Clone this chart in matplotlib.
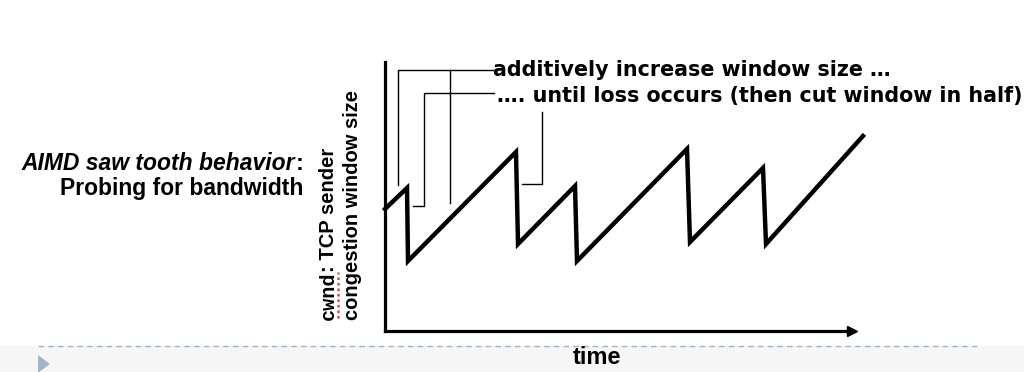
import matplotlib.pyplot as plt
from matplotlib.patches import Rectangle, Polygon
from matplotlib.lines import Line2D

# sawtooth vertices (time, cwnd)
saw_t = [0, 22, 23, 131, 133, 190, 192, 302, 305, 378, 381, 478]
saw_w = [122, 143, 70, 179, 87, 145, 70, 182, 89, 163, 87, 195]

note_add = "additively increase window size \u2026"
note_loss = "\u2026. until loss occurs (then cut window in half)"
side_line1 = "AIMD saw tooth behavior"
side_line2 = "Probing for bandwidth"
xlab = "time"

W, H = 1024, 372
fig = plt.figure(figsize=(W / 100, H / 100), dpi=100)

def fx(px):
    return px / W

def fy(py):
    return 1 - py / H

# slide footer band
fig.patches.append(Rectangle((0, 0), 1, fy(346), transform=fig.transFigure,
                             facecolor="#f6f6f6", edgecolor="none", zorder=0))
fig.lines.append(Line2D([fx(38), fx(980)], [fy(346), fy(346)], transform=fig.transFigure,
                        color="#9db5cc", lw=1, ls=(0, (4, 3))))
fig.patches.append(Polygon([(fx(38), fy(355)), (fx(50), fy(364)), (fx(38), fy(373))],
                           closed=True, transform=fig.transFigure,
                           facecolor="#a3b6c9", edgecolor="none"))

ax = fig.add_axes([fx(385), fy(331), fx(852) - fx(385), fy(62) - fy(331)])
ax.set_xlim(0, 467)
ax.set_ylim(0, 269)
ax.patch.set_alpha(0)
for s in ["top", "right"]:
    ax.spines[s].set_visible(False)
for s in ["left", "bottom"]:
    ax.spines[s].set_linewidth(2.3)
    ax.spines[s].set_color("black")
ax.set_xticks([])
ax.set_yticks([])
ax.plot(1, 0, ">k", ms=7, transform=ax.get_yaxis_transform(), clip_on=False)

ax.plot(saw_t, saw_w, color="black", lw=3.2, solid_joinstyle="miter", clip_on=False)

# callout leader lines (pixel positions converted to figure coords)
def leader(pts):
    fig.lines.append(Line2D([fx(p[0]) for p in pts], [fy(p[1]) for p in pts],
                            transform=fig.transFigure, color="black", lw=1))

leader([(398, 185), (398, 70), (493, 70)])
leader([(450, 203), (450, 70)])
leader([(413, 206), (424, 206), (424, 93), (494, 93)])
leader([(522, 184), (542, 184), (542, 112)])

fig.text(fx(493), fy(70), note_add, fontsize=14.9, fontweight="bold",
         family="DejaVu Sans", va="center", ha="left")
fig.text(fx(497), fy(96), note_loss, fontsize=14.9, fontweight="bold",
         family="DejaVu Sans", va="center", ha="left")

# left caption: italic part then upright colon
colon = fig.text(fx(303), fy(163), ":", fontsize=16.5, fontweight="bold",
                 family="Liberation Sans", va="center", ha="right")
fig.canvas.draw()
cx0 = colon.get_window_extent().x0
fig.text(cx0 / W, fy(163), side_line1, fontsize=16.5, fontweight="bold",
         style="italic", family="Liberation Sans", va="center", ha="right")
fig.text(fx(303), fy(188), side_line2, fontsize=16.5, fontweight="bold",
         family="Liberation Sans", va="center", ha="right")

# y label, two rotated lines
cw = fig.text(fx(328), fy(320), "cwnd", fontsize=14.5, fontweight="bold",
              family="Liberation Mono", rotation=90, va="bottom", ha="center")
fig.canvas.draw()
top = cw.get_window_extent()
fig.text(fx(328), top.y1 / H, ": TCP sender", fontsize=14.5, fontweight="bold",
         family="Liberation Sans", rotation=90, va="bottom", ha="center")
fig.lines.append(Line2D([fx(338), fx(338)], [fy(318), top.y1 / H], transform=fig.transFigure,
                        color="#e04848", lw=1.8, ls=(0, (1, 1.2))))
fig.text(fx(353), fy(320), "congestion window size", fontsize=14.5, fontweight="bold",
         family="Liberation Sans", rotation=90, va="bottom", ha="center")

fig.text(fx(597), fy(357), xlab, fontsize=17, fontweight="bold",
         family="Liberation Sans", va="center", ha="center")

fig.savefig("out.png", dpi=100)
